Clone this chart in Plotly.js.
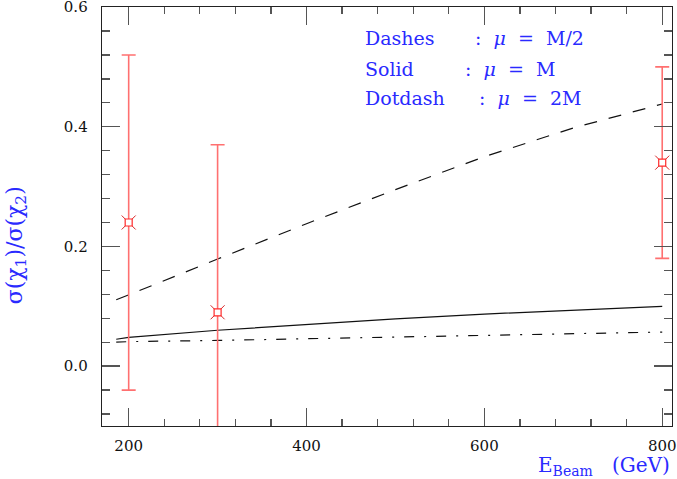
<!DOCTYPE html>
<html>
<head>
<meta charset="utf-8">
<script src="https://cdn.plot.ly/plotly-3.0.1.min.js"></script>
<style>
  html, body { margin: 0; padding: 0; background: #fff; }
  #chart { width: 677px; height: 479px; }
</style>
</head>
<body>
<div id="chart"></div>
<script>
// theory curves, sigma(chi1)/sigma(chi2) vs beam energy
const energy = [186, 200, 300, 400, 500, 600, 700, 800];
const dashes = [0.111, 0.119, 0.179, 0.238, 0.295, 0.350, 0.398, 0.438];
const solid = [0.045, 0.048, 0.060, 0.070, 0.079, 0.087, 0.094, 0.100];
const dotdash = [0.040, 0.041, 0.043, 0.046, 0.049, 0.052, 0.055, 0.057];

// measured points with errors
const beamE = [200, 300, 800];
const ratio = [0.24, 0.09, 0.34];
const errUp = [0.28, 0.28, 0.16];
const errDown = [0.28, 0.28, 0.16];

const legendLabels = ["Dashes", "Solid", "Dotdash"];
const legendScales = [": <i>μ</i> = M/2", ": <i>μ</i> = M", ": <i>μ</i> = 2M"];

const blue = "#2a2aff";
const red = "#ff2a2a";
const serif = "DejaVu Serif, serif";

function curve(y, dash) {
  return {
    x: energy, y: y, type: "scatter", mode: "lines",
    line: { color: "#111", width: 1.2, dash: dash },
    hoverinfo: "skip"
  };
}

const traces = [
  curve(dashes, "13px,12px"),
  curve(solid, "solid"),
  curve(dotdash, "10px,10px,2px,10px"),
  {
    x: beamE, y: ratio, type: "scatter", mode: "markers",
    marker: { symbol: "x-thin-open", size: 14, line: { color: red, width: 1 } },
    error_y: {
      type: "data", symmetric: false, array: errUp, arrayminus: errDown,
      color: "#ff7070", thickness: 1.6, width: 7
    }
  },
  {
    x: beamE, y: ratio, type: "scatter", mode: "markers",
    marker: { symbol: "square", size: 7, color: "#fff", line: { color: red, width: 1.2 } }
  }
];

const annotations = [];
const rowY = [0.926, 0.852, 0.783];
const scaleX = [0.651, 0.633, 0.658];
legendLabels.forEach((label, i) => {
  annotations.push({
    xref: "paper", yref: "paper", x: 0.458, y: rowY[i], xanchor: "left", yanchor: "middle",
    text: label, showarrow: false, font: { family: serif, size: 19, color: blue }
  });
  annotations.push({
    xref: "paper", yref: "paper", x: scaleX[i], y: rowY[i], xanchor: "left", yanchor: "middle",
    text: legendScales[i].replace(/ /g, "\u00a0\u00a0"), showarrow: false,
    font: { family: serif, size: 19, color: blue }
  });
});
annotations.push({
  xref: "paper", yref: "paper", x: 1, y: -0.06, xanchor: "right", yanchor: "top",
  text: "E<sub>Beam</sub>\u00a0\u00a0\u00a0(GeV)", showarrow: false,
  font: { family: serif, size: 20, color: blue }
});
annotations.push({
  xref: "paper", yref: "paper", x: -0.15, y: 0.43, xanchor: "center", yanchor: "middle",
  textangle: -90, text: "σ(χ<sub>1</sub>)/σ(χ<sub>2</sub>)", showarrow: false,
  font: { family: serif, size: 22, color: blue }
});

const axisStyle = {
  showgrid: false, zeroline: false, showline: true, linecolor: "#222", linewidth: 1.3,
  mirror: "ticks", ticks: "inside", ticklen: 18, tickwidth: 1.3, tickcolor: "#555",
  ticklabeloverflow: "allow",
  tickfont: { family: serif, size: 15, color: "#111" }
};

const layout = {
  width: 677, height: 479,
  margin: { l: 102, r: 5, t: 7, b: 53 },
  paper_bgcolor: "#fff", plot_bgcolor: "#fff",
  showlegend: false,
  xaxis: Object.assign({}, axisStyle, {
    range: [170, 811], tick0: 200, dtick: 200, ticklabelstandoff: 6,
    minor: { dtick: 40, ticks: "inside", ticklen: 7, tickwidth: 1.3, tickcolor: "#555" }
  }),
  yaxis: Object.assign({}, axisStyle, {
    range: [-0.1, 0.6001], tick0: 0, dtick: 0.2, tickformat: ".1f", ticklabelstandoff: 10,
    minor: { dtick: 0.04, ticks: "inside", ticklen: 8, tickwidth: 1.3, tickcolor: "#555" }
  }),
  annotations: annotations
};

Plotly.newPlot("chart", traces, layout, { displayModeBar: false, staticPlot: true });
</script>
</body>
</html>
